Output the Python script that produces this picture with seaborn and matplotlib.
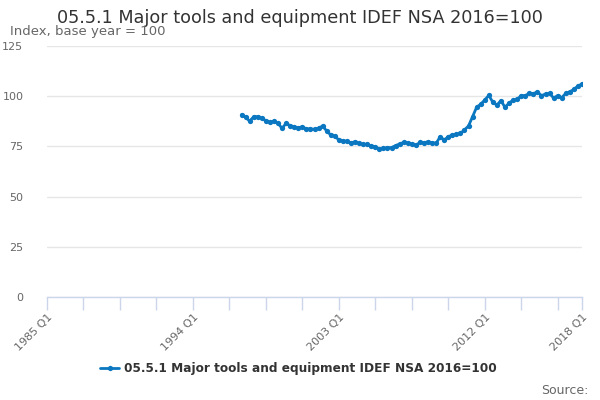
import matplotlib
matplotlib.use("Agg")
import matplotlib.pyplot as plt
import seaborn as sns
import pandas as pd
import numpy as np

# ---- data ----
start_year = 1997
values = [
    90.8, 89.5, 87.6, 89.8, 89.8, 89.0, 87.8, 87.0, 87.6, 86.5,
    84.0, 86.5, 85.3, 84.8, 84.2, 84.8, 83.7, 83.7, 83.5, 84.0,
    85.2, 82.7, 80.7, 80.2, 78.2, 77.8, 77.5, 76.8, 77.3, 76.5,
    76.0, 76.0, 75.2, 74.9, 73.7, 74.0, 74.4, 74.4, 75.4, 76.2,
    77.0, 76.8, 76.2, 75.5, 77.0, 76.8, 77.3, 76.8, 76.5, 79.8,
    78.2, 79.8, 80.7, 81.0, 81.5, 83.2, 85.2, 89.8, 94.5, 96.0,
    98.1, 100.4, 97.0, 95.6, 97.8, 94.5, 96.5, 98.1, 98.4, 100.3,
    100.3, 101.4, 101.3, 102.1, 100.3, 101.1, 101.4, 99.1, 100.3, 99.3,
    101.4, 102.2, 103.4, 105.1, 106.1,
]
series_name = "05.5.1 Major tools and equipment IDEF NSA 2016=100"
axis_start_year = 1985
axis_end_year = 2018
tick_labels_shown = ["1985 Q1", "1994 Q1", "2003 Q1", "2012 Q1", "2018 Q1"]
y_ticks = [0, 25, 50, 75, 100, 125]

# quarter index relative to 1985 Q1
qidx = [(start_year - axis_start_year) * 4 + i for i in range(len(values))]
df = pd.DataFrame({"q": qidx, "value": values, "series": series_name})

sns.set_theme(style="white")
plt.rcParams['font.family'] = ['DejaVu Sans']

fig = plt.figure(figsize=(6, 4), dpi=100)
ax = fig.add_axes([47/600, 1 - 297/400, (582-47)/600, (297-46)/400])

color = "#0a77c0"
sns.lineplot(data=df, x="q", y="value", hue="series", palette=[color],
             marker="o", markersize=3.8, markeredgewidth=0, linewidth=2,
             ax=ax)

end_q = (axis_end_year - axis_start_year) * 4
ax.set_xlim(0, end_q)
ax.set_ylim(0, 125)

# grid
ax.set_yticks(y_ticks)
ax.yaxis.grid(True, color="#e6e6e6", linewidth=1)
ax.xaxis.grid(False)
for s in ["top", "right", "left"]:
    ax.spines[s].set_visible(False)
ax.spines["bottom"].set_color("#ccd6eb")
ax.spines["bottom"].set_linewidth(1)

major = list(range(0, end_q, 9)) + [end_q]
ax.set_xticks(major)
labels = []
for q in major:
    lab = f"{axis_start_year + q // 4} Q{q % 4 + 1}"
    labels.append(lab if lab in tick_labels_shown else "")
ax.set_xticklabels(labels, rotation=45, ha="right", rotation_mode="anchor",
                   fontsize=8, color="#666666")
ax.tick_params(axis="x", which="major", length=9, width=1, color="#ccd6eb",
               direction="out", pad=2, bottom=True)
ax.tick_params(axis="y", length=0, labelsize=8, labelcolor="#666666", pad=17)
for t in ax.get_yticklabels():
    t.set_horizontalalignment("right")
ax.set_xlabel("")
ax.set_ylabel("")

# legend
leg = ax.legend(loc="upper center", bbox_to_anchor=(0.5 - 16/535, -0.215),
                frameon=False, fontsize=8.7, handlelength=1.6,
                handletextpad=0.4)
for t in leg.get_texts():
    t.set_fontweight("bold")
    t.set_color("#333333")

fig.text(0.5, 1 - 18/400, series_name, ha="center", va="center",
         fontsize=12.7, color="#333333")
fig.text(10/600, 1 - 32/400, "Index, base year = 100", ha="left", va="center",
         fontsize=9.5, color="#666666")
fig.text(589/600, 1 - 390/400, "Source:", ha="right", va="center",
         fontsize=9, color="#666666")

fig.savefig("out.png", dpi=100)
